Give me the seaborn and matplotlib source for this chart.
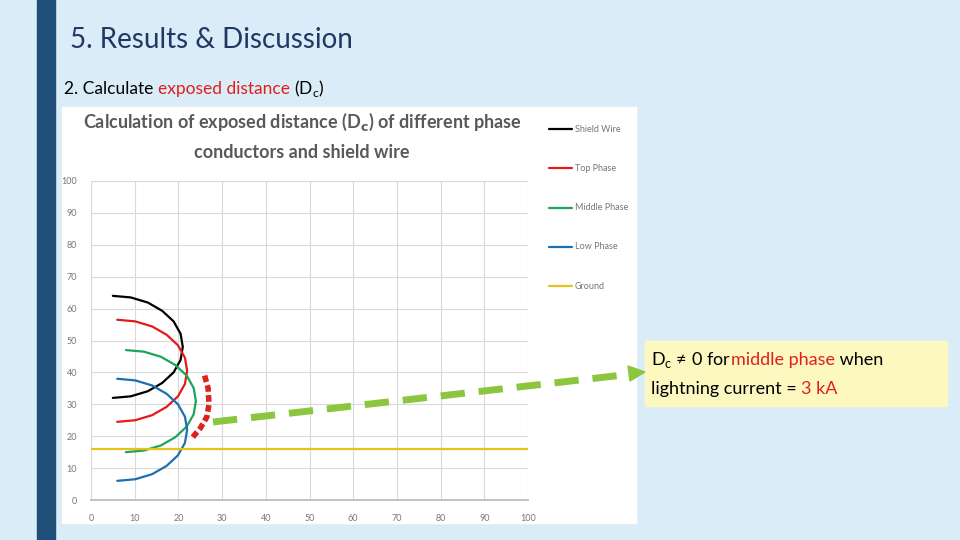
import matplotlib
matplotlib.use("Agg")
import matplotlib.pyplot as plt
import seaborn as sns
import pandas as pd
from matplotlib.patches import Rectangle
from matplotlib.lines import Line2D

sns.set_theme(style="whitegrid")
plt.rcParams['font.family'] = ['Lato', 'DejaVu Sans']
plt.rcParams['mathtext.fontset'] = 'custom'
plt.rcParams['mathtext.rm'] = 'Lato'

# arc points
rx = [6, 10.1, 14, 17.3, 19.9, 21.5, 22, 21.5, 19.9, 17.3, 14, 10.1, 6]
shield_x = [5, 9.1, 13, 16.3, 18.9, 20.5, 21, 20.5, 18.9, 16.3, 13, 9.1, 5]
shield_y = [64, 63.5, 61.9, 59.3, 56, 52.1, 48, 43.9, 40, 36.7, 34.1, 32.5, 32]
top_x = rx
top_y = [56.5, 56, 54.4, 51.8, 48.5, 44.6, 40.5, 36.4, 32.5, 29.2, 26.6, 25, 24.5]
mid_x = [8, 12.1, 16, 19.3, 21.9, 23.5, 24, 23.5, 21.9, 19.3, 16, 12.1, 8]
mid_y = [47, 46.5, 44.9, 42.3, 39, 35.1, 31, 26.9, 23, 19.7, 17.1, 15.5, 15]
low_x = rx
low_y = [38, 37.5, 35.9, 33.3, 30, 26.1, 22, 17.9, 14, 10.7, 8.1, 6.5, 6]
ground_x = [0, 100]
ground_y = [16, 16]
mark_x = [26, 26.8, 27, 26.5, 25, 23.3]
mark_y = [39, 35, 30, 26, 22.5, 19.7]

series = [("Shield Wire", shield_x, shield_y, "black"),
          ("Top Phase", top_x, top_y, "#e41a1c"),
          ("Middle Phase", mid_x, mid_y, "#1ea35a"),
          ("Low Phase", low_x, low_y, "#1f6fb0"),
          ("Ground", ground_x, ground_y, "#e6c21a")]
rows = []
for name, xs, ys, c in series:
    for i, (x, y) in enumerate(zip(xs, ys)):
        rows.append(dict(series=name, x=x, y=y, order=i))
df = pd.DataFrame(rows)

fig = plt.figure(figsize=(9.6, 5.4), dpi=100)
fig.patch.set_facecolor("#daecf7")
fig.patches.append(Rectangle((37/960, 0), 18/960, 1, transform=fig.transFigure, color="#1f4e79", zorder=-2))
fig.patches.append(Rectangle((62/960, 17/540), 574/960, 416/540, transform=fig.transFigure, color="white", zorder=-2))
fig.patches.append(Rectangle((645/960, 1 - 406/540), 302/960, 65/540, transform=fig.transFigure,
                             color="#fdf8c0", zorder=-2))

renderer = fig.canvas.get_renderer()

def run_text(x_px, y_px, parts, size):
    x = x_px / 960
    for s, c in parts:
        t = fig.text(x, 1 - y_px / 540, s, fontsize=size, color=c, va="center")
        bb = t.get_window_extent(renderer)
        x += bb.width / 960

fig.text(70/960, 1 - 40/540, "5. Results & Discussion", fontsize=20, color="#1f3864", va="center")
run_text(64, 89, [("2. Calculate ", "black"), ("exposed distance ", "#e0201c"), ("(D$_\\mathrm{c}$)", "black")], 12.5)

ax = fig.add_axes([91/960, 40/540, 437/960, 319/540])
ax.set_facecolor("white")
pal = {n: c for n, _, _, c in series}
sns.lineplot(data=df, x="x", y="y", hue="series", palette=pal, sort=False,
             units="series", estimator=None, ax=ax, linewidth=1.6, legend=False)
ax.plot(mark_x, mark_y, color="#e0201c", lw=4, ls=(0, (1.2, 0.6)), clip_on=False)
ax.set_xlim(0, 100)
ax.set_ylim(0, 100)
ax.set_xticks(range(0, 101, 10))
ax.set_yticks(range(0, 101, 10))
ax.tick_params(labelsize=6.5, colors="#777777", pad=4)
ax.set_xlabel("")
ax.set_ylabel("")
for s in ax.spines.values():
    s.set_visible(False)
ax.spines['bottom'].set_visible(True)
ax.spines['bottom'].set_color("#bbbbbb")
ax.grid(color="#d9d9d9", lw=0.8)

fig.text(302/960, 1 - 122/540, "Calculation of exposed distance (D$_\\mathbf{c}$) of different phase",
         fontsize=13, fontweight="bold", color="#595959", ha="center", va="center")
fig.text(302/960, 1 - 152/540, "conductors and shield wire",
         fontsize=13, fontweight="bold", color="#595959", ha="center", va="center")

for i, (name, _, _, c) in enumerate(series):
    y = 1 - (129 + 39.3 * i) / 540
    fig.lines.append(Line2D([549/960, 572/960], [y, y], transform=fig.transFigure, color=c, lw=1.6))
    fig.text(575/960, y, name, fontsize=6.5, color="#777777", va="center")

run_text(651, 360, [("D$_\\mathrm{c}$ ≠ 0 for ", "black"), ("middle phase", "#e0201c"), (" when", "black")], 13)
run_text(651, 389, [("lightning current = ", "black"), ("3 kA", "#e0201c")], 13)

fig.lines.append(Line2D([213/960, 632/960], [1 - 422/540, 1 - 374/540], transform=fig.transFigure,
                        color="#8cc63f", lw=5, ls=(0, (3.5, 2))))
fig.patches.append(plt.Polygon([[645/960, 1 - 372/540], [628/960, 1 - 366/540], [630/960, 1 - 381/540]],
                               closed=True, transform=fig.transFigure, color="#8cc63f", zorder=3))

fig.savefig("out.png", dpi=100)
